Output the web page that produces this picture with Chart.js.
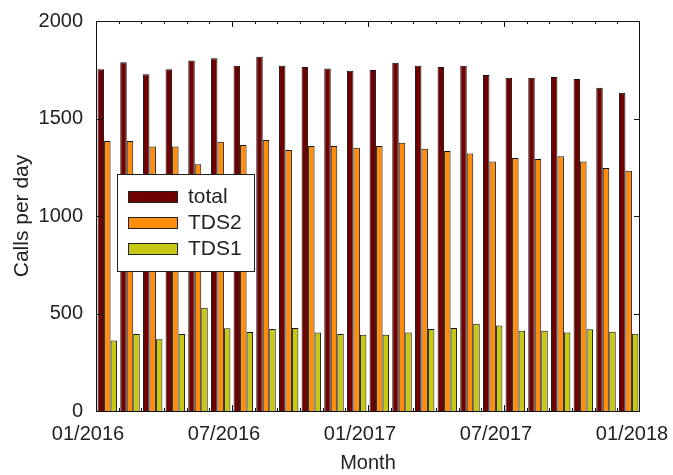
<!DOCTYPE html>
<html>
<head>
<meta charset="utf-8">
<script src="https://cdn.jsdelivr.net/npm/chart.js@4"></script>
<style>
  html, body { margin: 0; padding: 0; background: #fff; }
  #wrap { width: 673px; height: 475px; }
</style>
</head>
<body>
<div id="wrap"><canvas id="callsChart" width="673" height="475"></canvas></div>
<script>
const months = ['01/2016', '02/2016', '03/2016', '04/2016', '05/2016', '06/2016',
  '07/2016', '08/2016', '09/2016', '10/2016', '11/2016', '12/2016',
  '01/2017', '02/2017', '03/2017', '04/2017', '05/2017', '06/2017',
  '07/2017', '08/2017', '09/2017', '10/2017', '11/2017', '12/2017'];

const total = [1752, 1788, 1727, 1752, 1798, 1809, 1771, 1817, 1771, 1764, 1757, 1745,
  1749, 1786, 1771, 1764, 1771, 1723, 1709, 1709, 1713, 1703, 1658, 1632];
const tds2 = [1385, 1385, 1357, 1357, 1265, 1381, 1364, 1390, 1338, 1359, 1359, 1350,
  1359, 1376, 1345, 1333, 1321, 1279, 1297, 1292, 1306, 1279, 1246, 1232];
const tds1 = [361, 395, 368, 395, 530, 424, 405, 420, 426, 402, 395, 391,
  391, 402, 420, 426, 448, 439, 412, 412, 402, 419, 407, 396];

const tickLabels = ['01/2016', '07/2016', '01/2017', '07/2017', '01/2018'];

const FONT = 'Liberation Sans, Arial, sans-serif';

// frame, inward tick marks and the boxed legend inside the plot
const framePlugin = {
  id: 'frame',
  afterDraw(chart) {
    const ctx = chart.ctx;
    const a = chart.chartArea;
    const xs = chart.scales.x2;
    const ys = chart.scales.y;
    ctx.save();
    ctx.strokeStyle = '#111';
    ctx.lineWidth = 1;
    ctx.strokeRect(a.left + 0.5, a.top + 0.5, a.right - a.left - 1, a.bottom - a.top);

    ctx.beginPath();
    for (let m = 1; m < months.length; m++) {
      const px = Math.round(xs.getPixelForValue(m)) + 0.5;
      const len = m % 6 === 0 ? 6 : 3;
      ctx.moveTo(px, a.top); ctx.lineTo(px, a.top + len);
      ctx.moveTo(px, a.bottom); ctx.lineTo(px, a.bottom - len);
    }
    ys.ticks.forEach(t => {
      if (t.value <= 0 || t.value >= 2000) return;
      const py = Math.round(ys.getPixelForValue(t.value)) + 0.5;
      ctx.moveTo(a.left, py); ctx.lineTo(a.left + 6, py);
      ctx.moveTo(a.right, py); ctx.lineTo(a.right - 6, py);
    });
    ctx.stroke();

    // legend
    const lx = 117, ly = 174, lw = 137, lh = 97;
    ctx.fillStyle = '#fff';
    ctx.fillRect(lx, ly, lw, lh);
    ctx.strokeStyle = '#222';
    ctx.strokeRect(lx + 0.5, ly + 0.5, lw, lh);
    ctx.font = '21px ' + FONT;
    ctx.textBaseline = 'middle';
    chart.data.datasets.forEach((ds, i) => {
      const cy = ly + 22 + i * 26;
      ctx.fillStyle = ds.backgroundColor;
      ctx.fillRect(128, cy - 5, 49, 11);
      ctx.strokeStyle = '#222';
      ctx.strokeRect(128.5, cy - 4.5, 49, 11);
      ctx.fillStyle = '#222';
      ctx.fillText(ds.label, 188, cy + 1);
    });
    ctx.restore();
  }
};

const ctx = document.getElementById('callsChart').getContext('2d');
new Chart(ctx, {
  type: 'bar',
  data: {
    labels: months,
    datasets: [
      { label: 'total', data: total, backgroundColor: '#700000', borderColor: '#111', borderWidth: 1 },
      { label: 'TDS2', data: tds2, backgroundColor: '#ff8c0a', borderColor: '#111', borderWidth: 1 },
      { label: 'TDS1', data: tds1, backgroundColor: '#c8c814', borderColor: '#111', borderWidth: 1 }
    ]
  },
  options: {
    responsive: false,
    animation: false,
    layout: { padding: { top: 21, right: 33, left: 0, bottom: 0 } },
    datasets: { bar: { categoryPercentage: 0.86, barPercentage: 1.0 } },
    plugins: { legend: { display: false }, tooltip: { enabled: false } },
    scales: {
      x: { type: 'category', display: false, offset: true },
      x2: {
        type: 'linear',
        position: 'bottom',
        min: 0,
        max: 24,
        offset: false,
        grid: { display: false, drawTicks: false, offset: false },
        border: { display: false },
        ticks: {
          stepSize: 6,
          padding: 11,
          labelOffset: -8,
          maxRotation: 0,
          color: '#222',
          font: { family: FONT, size: 20 },
          callback: v => tickLabels[v / 6]
        },
        title: { display: true, text: 'Month', color: '#222', font: { family: FONT, size: 20 }, padding: { top: 0, bottom: 0 } },
        afterFit: s => { s.height = 64; s.paddingLeft = 0; s.paddingRight = 0; }
      },
      y: {
        min: 0,
        max: 2000,
        grid: { display: false, drawTicks: false },
        border: { display: false },
        ticks: { stepSize: 500, padding: 13, color: '#222', font: { family: FONT, size: 20 }, callback: v => String(v) },
        title: { display: true, text: 'Calls per day', color: '#222', font: { family: FONT, size: 21 }, padding: { top: 10, bottom: 0 } },
        afterFit: s => { s.width = 96; s.paddingTop = 0; s.paddingBottom = 0; }
      }
    }
  },
  plugins: [framePlugin]
});
</script>
</body>
</html>
